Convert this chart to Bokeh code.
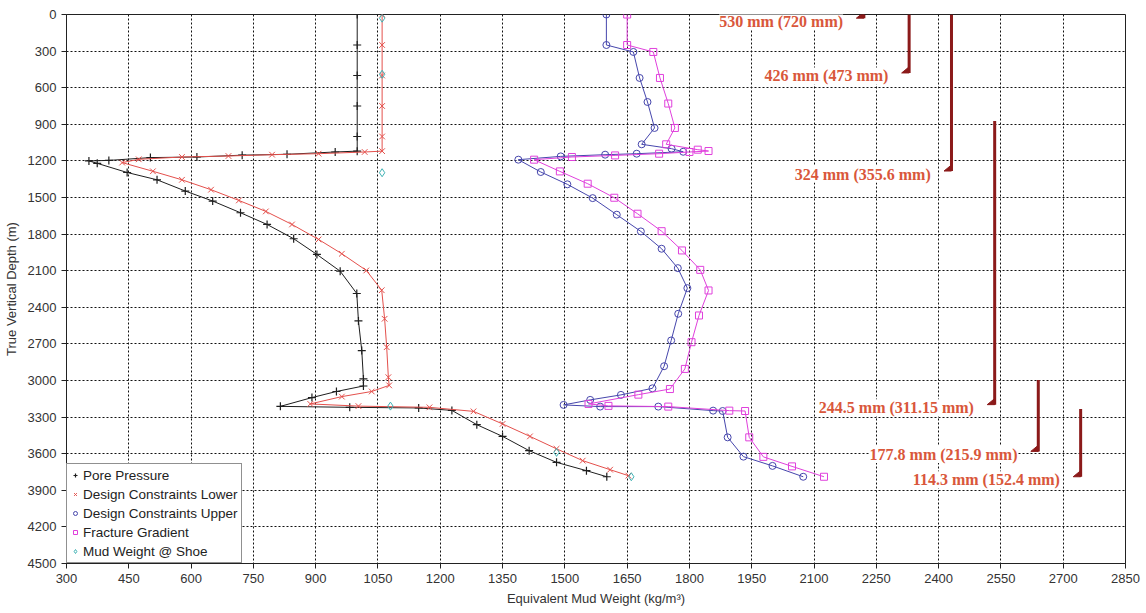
from bokeh.plotting import figure
from bokeh.models import Range1d, FixedTicker, Legend, LegendItem, Label
from bokeh.embed import file_html
from bokeh.resources import INLINE

# ---- data (kg/m3 vs TVD m) ----
pp_x = [1000, 1000, 1000, 1000, 1000, 1000, 947, 831, 723, 614, 502, 402, 354, 374,
        446, 518, 586, 652, 719, 783, 847, 903, 959, 999,
        1003, 1011, 1015, 1015, 950, 891, 815, 982, 1148, 1228,
        1288, 1350, 1414, 1480, 1552, 1601]
pp_d = [0, 250, 500, 750, 1000, 1120, 1127, 1146, 1153, 1168, 1173, 1196, 1200, 1220,
        1295, 1355, 1447, 1529, 1625, 1721, 1838, 1967, 2104, 2287,
        2512, 2755, 2987, 3045, 3090, 3140, 3212, 3220, 3225, 3245,
        3362, 3458, 3575, 3671, 3739, 3789]

lo_x = [1060, 1060, 1060, 1060, 1060, 1060, 1018, 907, 795, 690, 578, 474, 434,
        508, 578, 648, 715, 780, 843, 907, 963, 1022, 1059,
        1066, 1071, 1075, 1077, 1035, 963, 887, 1003, 1174, 1280,
        1350, 1416, 1480, 1543, 1609, 1653]
lo_d = [0, 250, 500, 750, 1000, 1120, 1127, 1141, 1149, 1160, 1168, 1187, 1214,
        1285, 1355, 1436, 1524, 1614, 1721, 1844, 1961, 2098, 2260,
        2494, 2727, 2973, 3040, 3090, 3132, 3192, 3210, 3220, 3253,
        3356, 3458, 3560, 3657, 3731, 3780]

up_x = [1600, 1600, 1665, 1680, 1699, 1716, 1685, 1757, 1785,
        1673, 1597, 1490, 1388, 1442, 1506, 1567, 1625, 1683, 1733, 1772, 1795,
        1773, 1756, 1739, 1711, 1635, 1561, 1497, 1585, 1725, 1857, 1880,
        1892, 1930, 2000, 2074]
up_d = [0, 250, 307, 520, 717, 930, 1064, 1100, 1125,
        1141, 1149, 1163, 1190, 1291, 1392, 1505, 1641, 1778, 1920, 2079, 2243,
        2453, 2672, 2883, 3064, 3118, 3159, 3200, 3214, 3214, 3247, 3250,
        3466, 3624, 3700, 3789]

fg_x = [1650, 1650, 1713, 1729, 1749, 1765, 1744, 1820, 1846,
        1800, 1727, 1621, 1517, 1426, 1488, 1555, 1619, 1675, 1733, 1782, 1826, 1846,
        1823, 1805, 1789, 1753, 1677, 1557, 1605, 1749, 1896, 1934,
        1944, 1978, 2047, 2124]
fg_d = [0, 250, 307, 520, 730, 930, 1064, 1108, 1119,
        1127, 1141, 1155, 1168, 1190, 1286, 1387, 1502, 1633, 1776, 1934, 2093, 2262,
        2467, 2686, 2905, 3070, 3116, 3192, 3208, 3214, 3247, 3250,
        3466, 3626, 3704, 3789]

mw_x = [1060, 1060, 1060, 1080, 1480, 1660]
mw_d = [30, 490, 1297, 3210, 3589, 3789]

casing_labels = ["530 mm (720 mm)", "426 mm (473 mm)", "324 mm (355.6 mm)",
                 "244.5 mm (311.15 mm)", "177.8 mm (215.9 mm)", "114.3 mm (152.4 mm)"]
casing_x = [2220, 2329, 2431, 2535, 2640, 2742]
casing_top = [0, 0, 0, 873, 2995, 3233]
casing_shoe = [30, 479, 1283, 3198, 3581, 3789]

x_ticks = list(range(300, 2851, 150))
y_ticks = list(range(0, 4501, 300))

# ---- figure ----
p = figure(width=1146, height=613, output_backend="svg", toolbar_location=None,
           x_range=Range1d(300, 2850), y_range=Range1d(4500, 0),
           min_border_left=66, min_border_right=21, min_border_top=14, min_border_bottom=50)
p.background_fill_color = "white"
p.border_fill_color = "white"
p.outline_line_color = "#222222"
p.outline_line_width = 1

for ax in (p.xaxis[0], p.yaxis[0]):
    ax.major_label_text_font = "Liberation Sans"
    ax.major_label_text_font_size = "13px"
    ax.major_label_text_color = "#333333"
    ax.axis_label_text_font = "Liberation Sans"
    ax.axis_label_text_font_size = "13px"
    ax.axis_label_text_font_style = "normal"
    ax.axis_label_text_color = "#333333"
    ax.axis_line_color = "#222222"
    ax.major_tick_line_color = "#222222"
    ax.major_tick_out = 5
    ax.major_tick_in = 0
    ax.minor_tick_line_color = None

p.xaxis.ticker = FixedTicker(ticks=x_ticks)
p.yaxis.ticker = FixedTicker(ticks=y_ticks)
p.xaxis.axis_label = "Equivalent Mud Weight (kg/m³)"
p.yaxis.axis_label = "True Vertical Depth (m)"
p.xaxis.axis_label_standoff = 5
p.yaxis.axis_label_standoff = 6

p.xgrid.ticker = FixedTicker(ticks=x_ticks)
p.ygrid.ticker = FixedTicker(ticks=y_ticks)
for g in (p.xgrid[0], p.ygrid[0]):
    g.grid_line_color = "#111111"
    g.grid_line_dash = "2 2"
    g.grid_line_width = 1

# ---- series ----
c_pp, c_lo, c_up, c_fg, c_mw = "#1e1e1e", "#e4504c", "#4646ac", "#e040dc", "#3fb2b4"

p.line(pp_x, pp_d, line_color=c_pp, line_width=1)
r_pp = p.scatter(pp_x, pp_d, marker="cross", size=8, line_color=c_pp, line_width=1.2)

p.line(lo_x, lo_d, line_color=c_lo, line_width=1)
r_lo = p.scatter(lo_x, lo_d, marker="x", size=8, line_color=c_lo, line_width=1)

p.line(up_x, up_d, line_color=c_up, line_width=1)
r_up = p.scatter(up_x, up_d, marker="circle", size=7, line_color=c_up, fill_color=None, line_width=1)

p.line(fg_x, fg_d, line_color=c_fg, line_width=1)
r_fg = p.scatter(fg_x, fg_d, marker="square", size=7, line_color=c_fg, fill_color=None, line_width=1)

r_mw = p.scatter(mw_x, mw_d, marker="diamond", size=8, line_color=c_mw, fill_color=None, line_width=1)

# ---- casing strings ----
p.segment(x0=casing_x, y0=casing_top, x1=casing_x, y1=casing_shoe,
          line_color="#8b1a1a", line_width=3)
tri_xs = [[cx, cx - 18, cx] for cx in casing_x]
tri_ys = [[sd, sd, sd - 50] for sd in casing_shoe]
p.patches(tri_xs, tri_ys, fill_color="#8b1a1a", line_color="#8b1a1a")

for lbl, cx, sd in zip(casing_labels, casing_x, casing_shoe):
    p.add_layout(Label(x=cx - 50, y=sd + 25, text=lbl, text_align="right",
                       text_baseline="middle", text_font="Liberation Serif",
                       text_font_style="bold", text_font_size="16px",
                       text_color="#d9573b", background_fill_color="white",
                       background_fill_alpha=1.0))

# ---- legend ----
legend = Legend(items=[
    LegendItem(label="Pore Pressure", renderers=[r_pp]),
    LegendItem(label="Design Constraints Lower", renderers=[r_lo]),
    LegendItem(label="Design Constraints Upper", renderers=[r_up]),
    LegendItem(label="Fracture Gradient", renderers=[r_fg]),
    LegendItem(label="Mud Weight @ Shoe", renderers=[r_mw]),
], location="bottom_left")
legend.margin = 0
legend.padding = 3
legend.spacing = 3
legend.label_height = 16
legend.glyph_height = 16
legend.glyph_width = 10
legend.label_standoff = 3
legend.label_text_font = "Liberation Sans"
legend.label_text_font_size = "13.5px"
legend.label_text_color = "#222222"
legend.border_line_color = "#222222"
legend.border_line_width = 1
legend.background_fill_alpha = 1.0
p.add_layout(legend)

open("out.html", "w").write(file_html(p, INLINE))
